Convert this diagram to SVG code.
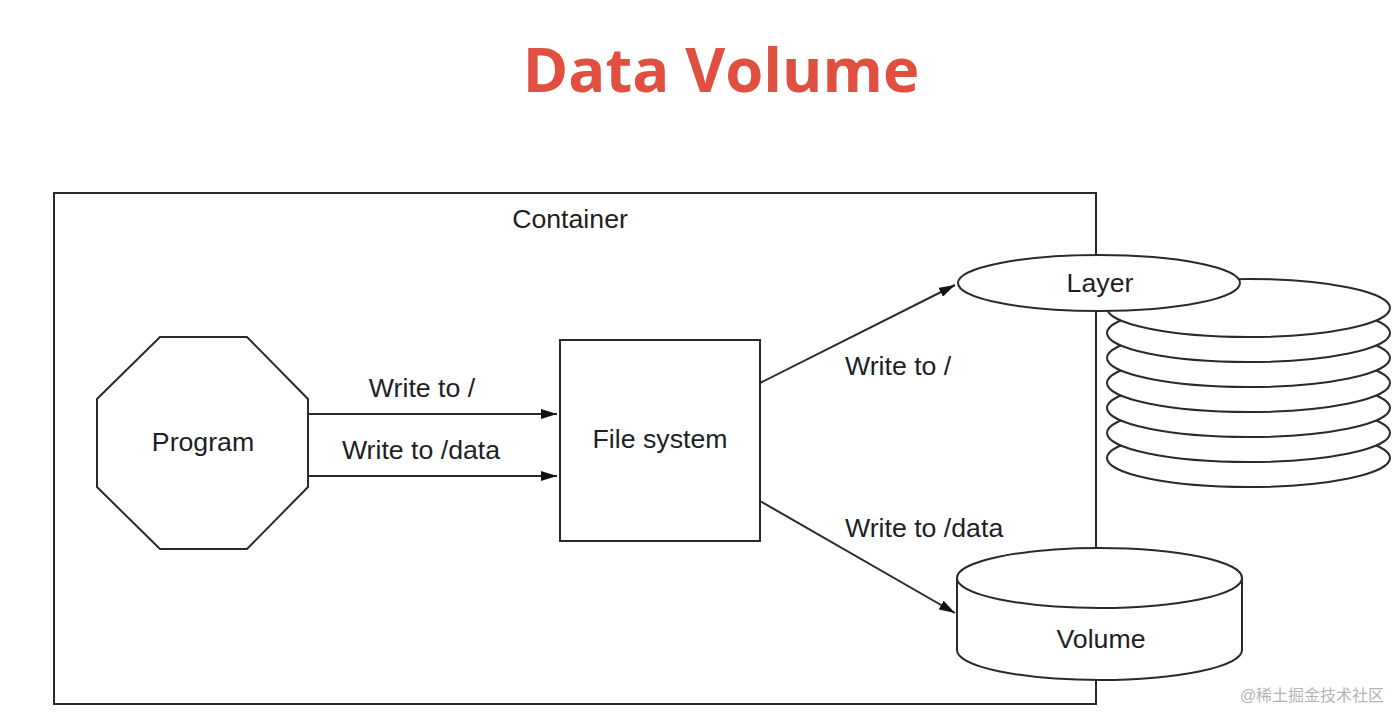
<svg xmlns="http://www.w3.org/2000/svg" width="1400" height="723" viewBox="0 0 1400 723">
<style>
.ln{fill:none;stroke:#2a2a2a;stroke-width:2}
.sh{fill:#fff;stroke:#2a2a2a;stroke-width:2}
.t{font-family:"Liberation Sans",Arial,sans-serif;font-size:26.7px;fill:#1e1e24}
.c{text-anchor:middle}
</style>
<defs>
<marker id="ah" viewBox="0 0 16 10" refX="16" refY="5" markerWidth="16" markerHeight="10" markerUnits="userSpaceOnUse" orient="auto">
<path d="M0,0 L16,5 L0,10 Z" fill="#111"/>
</marker>
</defs>
<rect width="1400" height="723" fill="#fff"/>
<text x="721" y="92" text-anchor="middle" font-family="'Open Sans',sans-serif" font-weight="bold" font-size="61.5" fill="#e04f3f">Data Volume</text>
<g id="container">
<rect class="ln" x="54" y="193" width="1042" height="511"/>
<text class="t c" x="570" y="228">Container</text>
</g>
<g id="connectors">
<line class="ln" x1="308" y1="414" x2="557" y2="414" marker-end="url(#ah)"/>
<line class="ln" x1="308" y1="476" x2="557" y2="476" marker-end="url(#ah)"/>
<line class="ln" x1="760" y1="383" x2="955" y2="285" marker-end="url(#ah)"/>
<line class="ln" x1="760" y1="501" x2="955" y2="613" marker-end="url(#ah)"/>
<text class="t c" x="422" y="397">Write to /</text>
<text class="t c" x="421" y="459">Write to /data</text>
<text class="t" x="845" y="375">Write to /</text>
<text class="t" x="845" y="537">Write to /data</text>
</g>
<g id="program">
<polygon class="sh" points="160,337 247,337 308,399 308,487 247,549 160,549 97,487 97,399"/>
<text class="t c" x="203" y="451">Program</text>
</g>
<g id="filesystem">
<rect class="sh" x="560" y="340" width="200" height="201"/>
<text class="t c" x="660" y="448">File system</text>
</g>
<g id="stack">
<ellipse class="sh" cx="1248.5" cy="458" rx="141.5" ry="29"/>
<ellipse class="sh" cx="1248.5" cy="433" rx="141.5" ry="29"/>
<ellipse class="sh" cx="1248.5" cy="408" rx="141.5" ry="29"/>
<ellipse class="sh" cx="1248.5" cy="383" rx="141.5" ry="29"/>
<ellipse class="sh" cx="1248.5" cy="358" rx="141.5" ry="29"/>
<ellipse class="sh" cx="1248.5" cy="333" rx="141.5" ry="29"/>
<ellipse class="sh" cx="1248.5" cy="308" rx="141.5" ry="29"/>
</g>
<g id="layer">
<ellipse class="sh" cx="1099" cy="283" rx="141" ry="28"/>
<text class="t c" x="1100" y="292">Layer</text>
</g>
<g id="volume">
<path class="sh" d="M957,578 L957,650 A142.5,30 0 0 0 1242,650 L1242,578 Z"/>
<ellipse class="sh" cx="1099.5" cy="578" rx="142.5" ry="30"/>
<text class="t c" x="1101" y="648">Volume</text>
</g>
<text x="1312" y="701" text-anchor="middle" font-family="'Liberation Sans','Noto Sans CJK SC',sans-serif" font-size="16" fill="#b4b4b4">@稀土掘金技术社区</text>
</svg>
